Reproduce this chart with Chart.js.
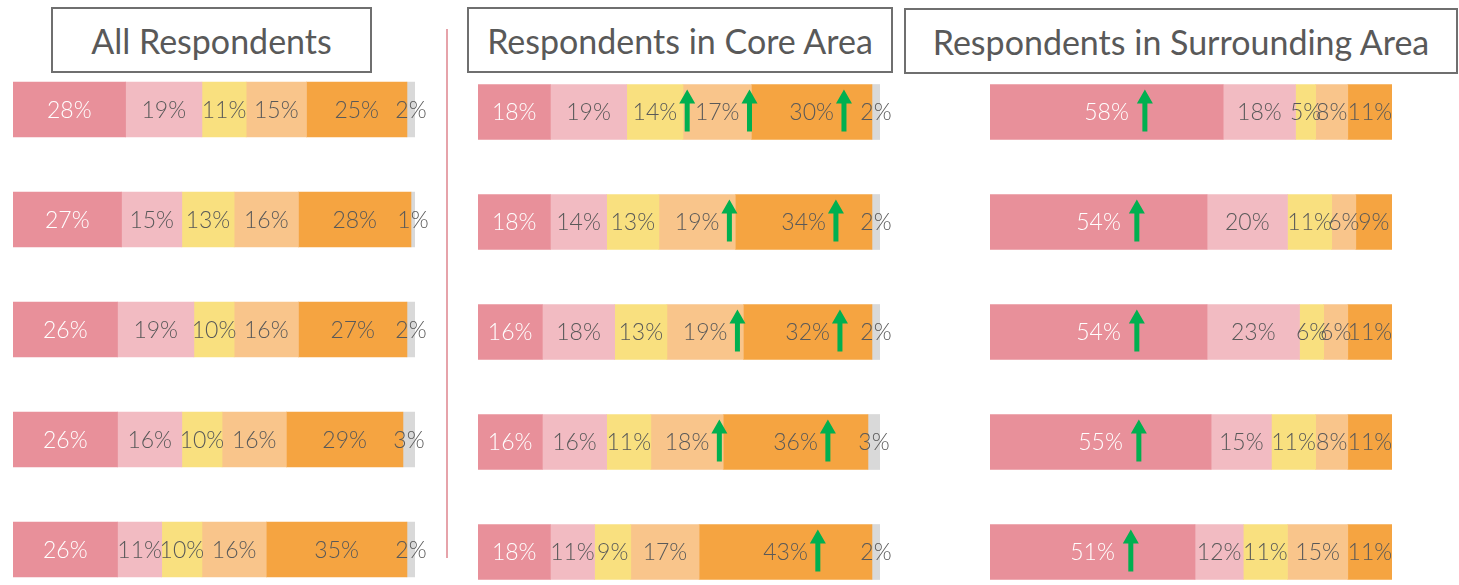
<!DOCTYPE html>
<html>
<head>
<meta charset="utf-8">
<script src="https://cdn.jsdelivr.net/npm/chart.js@4/dist/chart.umd.min.js"></script>
<style>
  html, body { margin:0; padding:0; background:#fff; width:1459px; height:585px; overflow:hidden; }
  .wrap { position:absolute; }
  .title { position:absolute; box-sizing:border-box; border:2px solid #6f6f6f; color:#595959;
           font-family: Lato, "Open Sans", sans-serif; font-weight:400; font-size:34px; display:flex; align-items:center; justify-content:center; background:#fff; }
  .divider { position:absolute; left:446px; top:29px; width:1.5px; height:529px; background:#E6A3AA; }
</style>
</head>
<body>
<div class="title" style="left:51px; top:7px; width:321px; height:66px;">All Respondents</div>
<div class="title" style="left:467px; top:7px; width:426px; height:66px;">Respondents in Core Area</div>
<div class="title" style="left:904px; top:8px; width:554px; height:66px;">Respondents in Surrounding Area</div>
<div class="divider"></div>
<div class="wrap" style="left:0px; top:0px;"><canvas id="c1" width="450" height="620"></canvas></div>
<div class="wrap" style="left:455px; top:0px;"><canvas id="c2" width="445" height="620"></canvas></div>
<div class="wrap" style="left:960px; top:0px;"><canvas id="c3" width="499" height="620"></canvas></div>
<script>
// ---- data ----
const categories = ['Item 1', 'Item 2', 'Item 3', 'Item 4', 'Item 5'];
const seriesNames = ['Level 1', 'Level 2', 'Level 3', 'Level 4', 'Level 5', 'No answer'];
const seriesColors = ['#E8909A', '#F2BBC2', '#F9E07F', '#F9C58B', '#F5A441', '#D9D9D9'];

// rows = categories, columns = series (percent)
const allRespondents = [
  [28, 19, 11, 15, 25, 2],
  [27, 15, 13, 16, 28, 1],
  [26, 19, 10, 16, 27, 2],
  [26, 16, 10, 16, 29, 3],
  [26, 11, 10, 16, 35, 2]
];
const coreArea = [
  [18, 19, 14, 17, 30, 2],
  [18, 14, 13, 19, 34, 2],
  [16, 18, 13, 19, 32, 2],
  [16, 16, 11, 18, 36, 3],
  [18, 11, 9, 17, 43, 2]
];
const surroundingArea = [
  [58, 18, 5, 8, 11],
  [54, 20, 11, 6, 9],
  [54, 23, 6, 6, 11],
  [55, 15, 11, 8, 11],
  [51, 12, 11, 15, 11]
];
// segments (series index) marked with a green up-arrow, per category row
const allArrows = [[], [], [], [], []];
const coreArrows = [[2, 3, 4], [3, 4], [3, 4], [3, 4], [4]];
const surroundingArrows = [[0], [0], [0], [0], [0]];

// ---- plugin: value labels + arrows ----
const FONT = '300 23px Lato, "Open Sans", sans-serif';
const labelPlugin = {
  id: 'segLabels',
  afterDatasetsDraw(chart) {
    const ctx = chart.ctx;
    const opts = chart.options.plugins.segLabels;
    const arrows = opts.arrows;
    ctx.save();
    ctx.font = FONT;
    ctx.textAlign = 'center';
    ctx.textBaseline = 'middle';
    chart.data.datasets.forEach((ds, di) => {
      const meta = chart.getDatasetMeta(di);
      meta.data.forEach((bar, i) => {
        const v = ds.data[i];
        if (!v) return;
        const cx = (bar.x + bar.base) / 2;
        const txt = v + '%';
        ctx.fillStyle = di === 0 ? '#FFFFFF' : '#595959';
        ctx.fillText(txt, cx, bar.y + 1);
        if (arrows[i] && arrows[i].includes(di)) {
          const w = ctx.measureText(txt).width;
          const ax = cx + w / 2 + opts.gap;
          const top = bar.y - bar.height / 2 + 5;
          const bottom = bar.y + bar.height / 2 - 8;
          const headH = 14, headW = 16, shaft = 5;
          ctx.fillStyle = '#00B050';
          ctx.beginPath();
          ctx.moveTo(ax, top);
          ctx.lineTo(ax + headW / 2, top + headH);
          ctx.lineTo(ax + shaft / 2, top + headH);
          ctx.lineTo(ax + shaft / 2, bottom);
          ctx.lineTo(ax - shaft / 2, bottom);
          ctx.lineTo(ax - shaft / 2, top + headH);
          ctx.lineTo(ax - headW / 2, top + headH);
          ctx.closePath();
          ctx.fill();
        }
      });
    });
    ctx.restore();
  }
};

function makeChart(id, rows, arrows, gap, padding) {
  const nSeries = rows[0].length;
  const datasets = [];
  for (let s = 0; s < nSeries; s++) {
    datasets.push({
      label: seriesNames[s],
      data: rows.map(r => r[s]),
      backgroundColor: seriesColors[s],
      borderWidth: 0,
      barThickness: 55
    });
  }
  return new Chart(document.getElementById(id), {
    type: 'bar',
    data: { labels: categories, datasets },
    options: {
      indexAxis: 'y',
      responsive: false,
      animation: false,
      devicePixelRatio: 1,
      layout: { padding },
      scales: {
        x: { stacked: true, min: 0, max: 100, display: false },
        y: { stacked: true, display: false }
      },
      plugins: {
        legend: { display: false },
        tooltip: { enabled: false },
        segLabels: { arrows, gap }
      }
    },
    plugins: [labelPlugin]
  });
}

makeChart('c1', allRespondents, allArrows, 11, { left: 13, right: 35, top: 54.5, bottom: 15.5 });
makeChart('c2', coreArea, coreArrows, 10, { left: 23, right: 20, top: 57, bottom: 13 });
makeChart('c3', surroundingArea, surroundingArrows, 16, { left: 30, right: 67, top: 57, bottom: 13 });
</script>
</body>
</html>
